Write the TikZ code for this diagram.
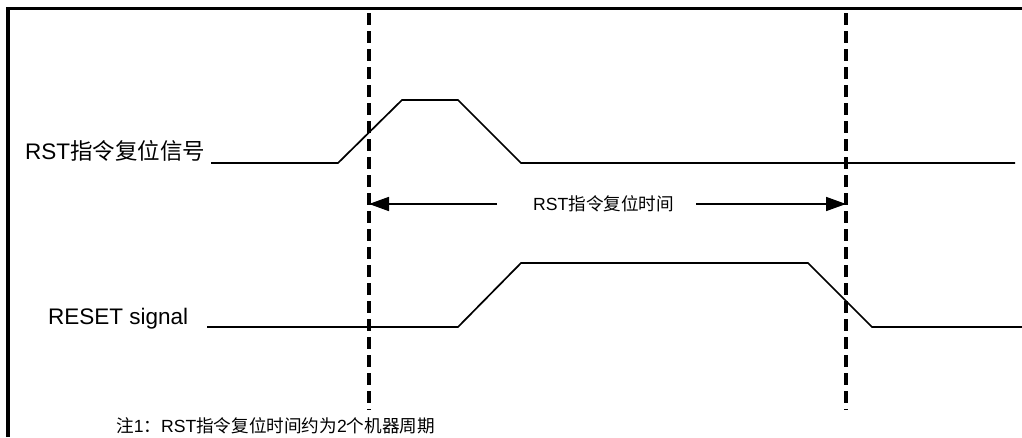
\documentclass[tikz,border=0pt]{standalone}
\usepackage{fontspec}
\setmainfont{Liberation Sans}
\newfontfamily\cjk{Noto Sans CJK SC}
\usetikzlibrary{arrows.meta}
\tikzset{>={Triangle[width=14pt,length=20pt]}}

\begin{document}
\begin{tikzpicture}[x=1pt, y=-1pt,
  sig/.style={line width=1.7pt},
  guide/.style={line width=3.2pt, dash pattern=on 12pt off 6pt},
  lbl/.style={anchor=base west, inner sep=0pt, font=\fontsize{22.5}{22.5}\selectfont},
  note/.style={anchor=base west, inner sep=0pt, font=\fontsize{17.6}{17.6}\selectfont}]
  \useasboundingbox (0,0) rectangle (1022,437);

  \newcommand\Ta{369};
  \newcommand\Tb{846};

  % frame
  \draw[line width=3.4pt](8,437)--(8,8.5)--(1022,8.5);

  % time marks
  \coordinate (ta top) at (\Ta, 13);
  \coordinate (ta bot) at (\Ta, 410);
  \coordinate (tb top) at (\Tb, 13);
  \coordinate (tb bot) at (\Tb, 410);
  \draw[guide](ta top)--(ta bot);
  \draw[guide](tb top)--(tb bot);

  % RST signal
  \node[lbl] (rst) at (25, 159) {RST{\cjk 指令复位信号}};
  \draw[sig](211, 163)--(338, 163)--(402, 100)--(458, 100)--(521, 163)--(1015, 163);

  % reset time
  \node[note] (span) at (533, 210) {RST{\cjk 指令复位时间}};
  \coordinate (ta mid) at (\Ta, 204);
  \coordinate (tb mid) at (\Tb, 204);
  \coordinate (span l) at (497, 204);
  \coordinate (span r) at (696, 204);
  \draw[sig, ->](span l)--(ta mid);
  \draw[sig, ->](span r)--(tb mid);

  % RESET signal
  \node[lbl] (reset) at (48, 324) {RESET signal};
  \draw[sig](207, 327)--(458, 327)--(521, 263)--(808, 263)--(872, 327)--(1022, 327);

  % \draw[sig](211, 163)--(1015, 163);
  \node[note] (remark) at (116, 432) {{\cjk 注}1{\cjk ：}RST{\cjk 指令复位时间约为}2{\cjk 个机器周期}};
\end{tikzpicture}
\end{document}
